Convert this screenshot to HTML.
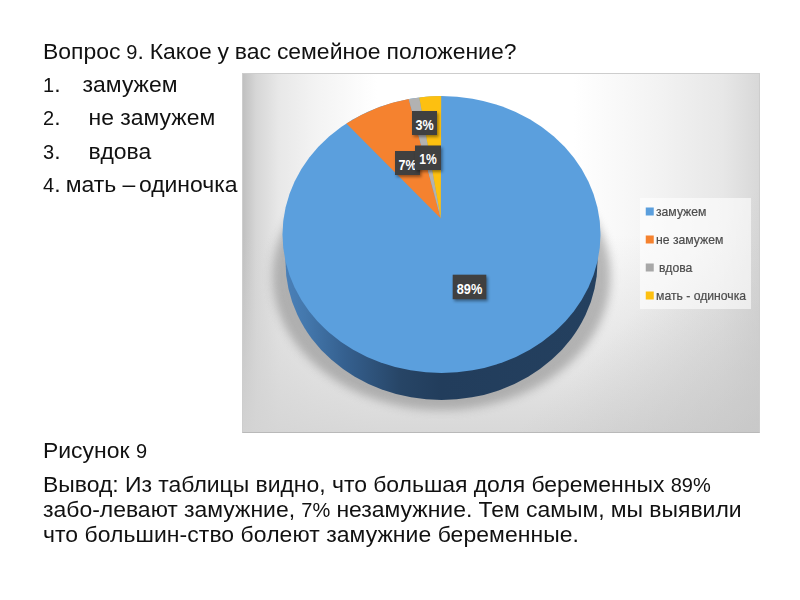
<!DOCTYPE html>
<html lang="ru">
<head>
<meta charset="utf-8">
<title>Вопрос 9</title>
<style>
html,body{margin:0;padding:0;}
body{width:800px;height:600px;background:#fff;position:relative;overflow:hidden;
  font-family:"Liberation Sans",sans-serif;color:#111;}
.t{filter:blur(.35px);position:absolute;left:43px;font-size:22.95px;line-height:25px;white-space:pre;margin:0;}
.d{font-size:20px;}
.t span.w{position:absolute;top:0;}
#chart{position:absolute;left:242px;top:73px;width:518px;height:360px;box-sizing:border-box;
  border:1px solid #cdcdcd;border-bottom-color:#b9b9b9;
  background:
    linear-gradient(135deg, rgba(200,200,200,0) 72%, rgba(190,190,190,.55) 100%),
    linear-gradient(to bottom, rgba(225,225,225,0) 45%, rgba(212,212,212,.9) 100%),
    linear-gradient(to right,#c0c0c0 0%,#d6d6d6 2.5%,#e8e8e8 7%,#f3f3f3 14%,#ffffff 26%,#ffffff 64%,#f3f3f3 80%,#e7e7e7 93%,#d8d8d8 100%);}
#chart svg{position:absolute;left:-1px;top:-1px;filter:blur(.55px);}
.lg{font-family:"Liberation Sans",sans-serif;font-size:12.2px;fill:#4c4c4c;stroke:#4c4c4c;stroke-width:.2px;}
.lb{font-family:"Liberation Sans",sans-serif;font-size:14px;font-weight:bold;fill:#fff;}
</style>
</head>
<body>
<p class="t" style="top:38.6px;word-spacing:-0.5px">Вопрос <span class="d">9</span>. Какое у вас семейное положение?</p>
<p class="t" style="top:71.6px"><span class="d">1</span>.<span class="w" style="left:39.6px">замужем</span></p>
<p class="t" style="top:105px"><span class="d">2</span>.<span class="w" style="left:45.5px">не замужем</span></p>
<p class="t" style="top:139px"><span class="d">3</span>.<span class="w" style="left:45.5px">вдова</span></p>
<p class="t" style="top:172px"><span class="d">4</span>.<span class="w" style="left:22.7px">мать</span><span class="w" style="left:79.6px">–</span><span class="w" style="left:95.9px">одиночка</span></p>

<div id="chart">
<svg width="518" height="360" viewBox="242 73 518 360">
  <defs>
    <linearGradient id="side" x1="0" y1="0" x2="1" y2="0">
      <stop offset="0" stop-color="#4a80b8"/>
      <stop offset="0.063" stop-color="#4478ad"/>
      <stop offset="0.19" stop-color="#35608f"/>
      <stop offset="0.37" stop-color="#274566"/>
      <stop offset="0.5" stop-color="#223d5c"/>
      <stop offset="1" stop-color="#24405f"/>
    </linearGradient>
    <filter id="blur" x="-20%" y="-20%" width="140%" height="140%"><feGaussianBlur stdDeviation="5"/></filter>
    <filter id="ls" x="-30%" y="-30%" width="160%" height="160%"><feGaussianBlur stdDeviation="1.5"/></filter>
  </defs>
  <!-- shadow -->
  <ellipse cx="441.5" cy="276" rx="169" ry="134" fill="#8c8c8c" opacity=".6" filter="url(#blur)"/>
  <!-- side -->
  <ellipse cx="441.5" cy="262" rx="156" ry="138" fill="url(#side)"/>
  <!-- top face -->
  <ellipse cx="441.5" cy="234.5" rx="159" ry="138.5" fill="#5b9fdd"/>
  <!-- slices -->
  <path d="M440.8 218.6 L346.4 123.6 A159 138.5 0 0 1 408.75 99 Z" fill="#f5822f"/>
  <path d="M440.8 218.6 L408.75 99 A159 138.5 0 0 1 419.25 97.4 Z" fill="#b2b2b2"/>
  <path d="M440.8 218.6 L419.25 97.4 A159 138.5 0 0 1 441.2 96 Z" fill="#fdc010"/>
  <!-- labels -->
  <g>
    <rect x="412" y="111" width="25" height="24" fill="#000" opacity=".4" filter="url(#ls)" transform="translate(1.5,2)"/>
    <rect x="412" y="111" width="25" height="24" fill="#404040"/>
    <text class="lb" x="415.40" y="130" textLength="18.2" lengthAdjust="spacingAndGlyphs">3%</text>
    <rect x="395" y="151" width="25" height="24" fill="#000" opacity=".4" filter="url(#ls)" transform="translate(1.5,2)"/>
    <rect x="395" y="151" width="25" height="24" fill="#404040"/>
    <text class="lb" x="398.40" y="169.5" textLength="18.2" lengthAdjust="spacingAndGlyphs">7%</text>
    <rect x="415" y="145.5" width="26" height="24.5" fill="#000" opacity=".4" filter="url(#ls)" transform="translate(1.5,2)"/>
    <rect x="415" y="145.5" width="26" height="24.5" fill="#404040"/>
    <text class="lb" x="419.25" y="163.7" textLength="17.5" lengthAdjust="spacingAndGlyphs">1%</text>
    <rect x="452.7" y="274.7" width="33.6" height="24.5" fill="#000" opacity=".4" filter="url(#ls)" transform="translate(1.5,2)"/>
    <rect x="452.7" y="274.7" width="33.6" height="24.5" fill="#404040"/>
    <text class="lb" x="456.75" y="293.8" textLength="25.5" lengthAdjust="spacingAndGlyphs">89%</text>
  </g>
  <!-- legend -->
  <rect x="640" y="198" width="111" height="111" fill="#fff" opacity=".6"/>
  <rect x="645.75" y="207.5" width="8" height="8" fill="#5b9fdd"/>
  <text class="lg" x="656" y="216">замужем</text>
  <rect x="645.75" y="235.5" width="8" height="8" fill="#f5822f"/>
  <text class="lg" x="656" y="244">не замужем</text>
  <rect x="645.75" y="263.5" width="8" height="8" fill="#a8a8a8"/>
  <text class="lg" x="659" y="272">вдова</text>
  <rect x="645.75" y="291.5" width="8" height="8" fill="#fdc010"/>
  <text class="lg" x="656" y="300">мать - одиночка</text>
</svg>
</div>

<p class="t" style="top:438px">Рисунок <span class="d">9</span></p>
<p class="t" style="top:472px;word-spacing:-0.1px">Вывод: Из таблицы видно, что большая доля беременных <span class="d">89%</span></p>
<p class="t" style="top:497px;word-spacing:-0.15px">забо-левают замужние, <span class="d">7%</span> незамужние. Тем самым, мы выявили</p>
<p class="t" style="top:522px;letter-spacing:0.06px">что большин-ство болеют замужние беременные.</p>
</body>
</html>
